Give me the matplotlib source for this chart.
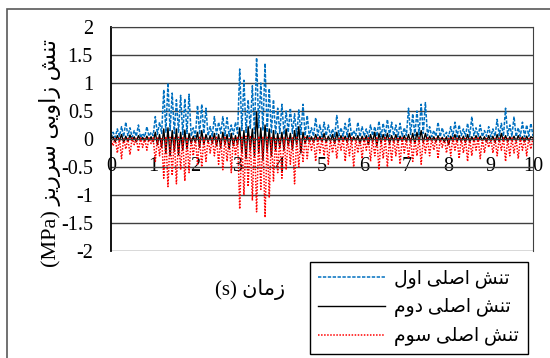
import numpy as np
import matplotlib
matplotlib.use("Agg")
import matplotlib.pyplot as plt
from matplotlib.patches import Rectangle

# time step of the records (s)
dt = 0.05

# principal stresses (MPa), one row per second
sigma1 = [
    0.02, 0.12, 0.03, 0.18, 0.05, 0.22, 0.04, 0.30, 0.06, 0.20, 0.03, 0.15, 0.05, 0.25, 0.02, 0.10, 0.04, 0.22, 0.05, 0.12,
    0.06, 0.40, 0.08, 0.30, 0.10, 0.88, 0.12, 1.00, 0.15, 0.82, 0.10, 0.70, 0.12, 0.78, 0.08, 0.72, 0.10, 0.80, 0.05, 0.20,
    0.04, 0.60, 0.08, 0.62, 0.10, 0.55, 0.06, 0.22, 0.05, 0.40, 0.08, 0.30, 0.10, 0.40, 0.06, 0.38, 0.05, 0.25, 0.08, 0.30,
    0.10, 1.25, 0.15, 1.05, 0.12, 0.70, 0.18, 0.95, 0.10, 1.45, 0.20, 1.00, 0.15, 1.35, 0.12, 0.90, 0.10, 0.70, 0.08, 0.55,
    0.10, 0.62, 0.08, 0.50, 0.12, 0.55, 0.10, 0.45, 0.05, 0.52, 0.08, 0.62, 0.06, 0.42, 0.04, 0.20, 0.05, 0.38, 0.06, 0.25,
    0.04, 0.30, 0.06, 0.25, 0.05, 0.18, 0.04, 0.42, 0.06, 0.20, 0.05, 0.28, 0.04, 0.38, 0.05, 0.15, 0.06, 0.30, 0.04, 0.22,
    0.05, 0.18, 0.04, 0.25, 0.06, 0.22, 0.05, 0.32, 0.04, 0.28, 0.06, 0.35, 0.05, 0.30, 0.06, 0.25, 0.04, 0.28, 0.05, 0.20,
    0.06, 0.55, 0.08, 0.45, 0.06, 0.50, 0.08, 0.62, 0.10, 0.65, 0.06, 0.22, 0.04, 0.15, 0.05, 0.30, 0.04, 0.20, 0.05, 0.12,
    0.04, 0.22, 0.05, 0.30, 0.04, 0.25, 0.06, 0.18, 0.05, 0.28, 0.04, 0.40, 0.06, 0.20, 0.05, 0.25, 0.04, 0.15, 0.05, 0.22,
    0.04, 0.18, 0.05, 0.35, 0.06, 0.28, 0.05, 0.55, 0.06, 0.25, 0.05, 0.40, 0.04, 0.20, 0.05, 0.30, 0.04, 0.25, 0.05, 0.28,
    0.05,
]
sigma2 = [
    0.00, 0.04, -0.05, 0.06, -0.03, 0.08, -0.06, 0.05, -0.04, 0.07, -0.03, 0.04, -0.05, 0.06, -0.02, 0.03, -0.04, 0.05, -0.03, 0.04,
    -0.05, 0.12, -0.10, 0.08, -0.15, 0.18, -0.25, 0.20, -0.30, 0.15, -0.22, 0.18, -0.28, 0.12, -0.20, 0.16, -0.18, 0.10, -0.08, 0.05,
    -0.06, 0.12, -0.15, 0.15, -0.10, 0.08, -0.05, 0.06, -0.08, 0.10, -0.12, 0.08, -0.15, 0.12, -0.10, 0.08, -0.18, 0.10, -0.12, 0.06,
    -0.10, 0.20, -0.25, 0.15, -0.35, 0.22, -0.20, 0.18, -0.30, 0.48, -0.25, 0.20, -0.38, 0.25, -0.22, 0.18, -0.30, 0.15, -0.20, 0.10,
    -0.15, 0.12, -0.20, 0.18, -0.12, 0.10, -0.18, 0.15, -0.10, 0.22, -0.25, 0.12, -0.08, 0.06, -0.05, 0.04, -0.06, 0.08, -0.04, 0.05,
    -0.05, 0.10, -0.06, 0.05, -0.04, 0.08, -0.08, 0.12, -0.05, 0.06, -0.04, 0.05, -0.06, 0.10, -0.05, 0.04, -0.03, 0.06, -0.08, 0.05,
    -0.04, 0.06, -0.10, 0.08, -0.05, 0.12, -0.12, 0.10, -0.06, 0.08, -0.04, 0.10, -0.08, 0.06, -0.05, 0.08, -0.06, 0.05, -0.04, 0.06,
    -0.05, 0.08, -0.06, 0.10, -0.08, 0.12, -0.05, 0.15, -0.06, 0.10, -0.04, 0.05, -0.03, 0.04, -0.05, 0.06, -0.04, 0.03, -0.05, 0.04,
    -0.10, 0.05, -0.04, 0.08, -0.05, 0.06, -0.04, 0.05, -0.06, 0.08, -0.05, 0.04, -0.03, 0.06, -0.04, 0.05, -0.03, 0.04, -0.05, 0.06,
    -0.04, 0.05, -0.06, 0.08, -0.05, 0.10, -0.04, 0.06, -0.05, 0.04, -0.03, 0.05, -0.04, 0.06, -0.03, 0.04, -0.05, 0.05, -0.03, 0.04,
    0.02,
]
sigma3 = [
    -0.02, -0.12, 0.02, -0.25, 0.01, -0.35, 0.02, -0.18, 0.01, -0.28, 0.02, -0.10, 0.01, -0.22, 0.02, -0.15, 0.01, -0.20, 0.02, -0.08,
    0.02, -0.40, 0.03, -0.30, 0.02, -0.70, 0.04, -0.85, 0.03, -0.65, 0.02, -0.80, 0.03, -0.55, 0.02, -0.75, 0.03, -0.60, 0.02, -0.30,
    0.02, -0.45, 0.03, -0.50, 0.02, -0.40, 0.01, -0.25, 0.02, -0.30, 0.03, -0.45, 0.02, -0.55, 0.03, -0.40, 0.02, -0.60, 0.03, -0.30,
    0.04, -1.25, 0.03, -1.00, 0.05, -0.85, 0.04, -1.10, 0.03, -1.30, 0.05, -0.90, 0.04, -1.40, 0.03, -1.05, 0.04, -0.75, 0.03, -0.60,
    0.03, -0.70, 0.02, -0.55, 0.03, -0.45, 0.02, -0.80, 0.03, -0.50, 0.02, -0.40, 0.03, -0.35, 0.02, -0.20, 0.01, -0.40, 0.02, -0.25,
    0.01, -0.30, 0.02, -0.45, 0.01, -0.25, 0.02, -0.35, 0.01, -0.20, 0.02, -0.40, 0.01, -0.30, 0.02, -0.50, 0.01, -0.25, 0.02, -0.35,
    0.01, -0.20, 0.02, -0.40, 0.01, -0.30, 0.02, -0.55, 0.01, -0.35, 0.02, -0.50, 0.01, -0.40, 0.02, -0.30, 0.01, -0.45, 0.02, -0.25,
    0.01, -0.35, 0.02, -0.40, 0.01, -0.30, 0.02, -0.45, 0.01, -0.25, 0.02, -0.30, 0.01, -0.20, 0.02, -0.35, 0.01, -0.15, 0.02, -0.25,
    0.01, -0.30, 0.02, -0.20, 0.01, -0.35, 0.02, -0.25, 0.01, -0.40, 0.02, -0.30, 0.01, -0.20, 0.02, -0.35, 0.01, -0.25, 0.02, -0.15,
    0.01, -0.25, 0.02, -0.30, 0.01, -0.20, 0.02, -0.40, 0.01, -0.30, 0.02, -0.25, 0.01, -0.35, 0.02, -0.20, 0.01, -0.30, 0.02, -0.18,
    0.01,
]

series_names = ["تنش اصلی اول", "تنش اصلی دوم", "تنش اصلی سوم"]
xlabel = "زمان (s)"
ylabel = "تنش زاویی سرریز (MPa)"
xticks = list(range(0, 11))
yticks = [-2, -1.5, -1, -0.5, 0, 0.5, 1, 1.5, 2]


# --- minimal Arabic/Persian shaping (matplotlib has no complex text layout)
FORMS = {  # isolated, final, initial, medial
    "ت": ("\uFE95", "\uFE96", "\uFE97", "\uFE98"),
    "ن": ("\uFEE5", "\uFEE6", "\uFEE7", "\uFEE8"),
    "ش": ("\uFEB5", "\uFEB6", "\uFEB7", "\uFEB8"),
    "س": ("\uFEB1", "\uFEB2", "\uFEB3", "\uFEB4"),
    "ص": ("\uFEB9", "\uFEBA", "\uFEBB", "\uFEBC"),
    "ل": ("\uFEDD", "\uFEDE", "\uFEDF", "\uFEE0"),
    "م": ("\uFEE1", "\uFEE2", "\uFEE3", "\uFEE4"),
    "ی": ("\uFBFC", "\uFBFD", "\uFBFE", "\uFBFF"),
    "ا": ("\uFE8D", "\uFE8E", None, None),
    "و": ("\uFEED", "\uFEEE", None, None),
    "ز": ("\uFEAF", "\uFEB0", None, None),
    "ر": ("\uFEAD", "\uFEAE", None, None),
    "د": ("\uFEA9", "\uFEAA", None, None),
}


def dual(c):
    return c in FORMS and FORMS[c][2] is not None


def rtl(text):
    out = []
    for i, c in enumerate(text):
        if c not in FORMS:
            out.append(c)
            continue
        prev = text[i - 1] if i > 0 else ""
        nxt = text[i + 1] if i + 1 < len(text) else ""
        jp = dual(prev)
        jn = dual(c) and nxt in FORMS
        idx = {(False, False): 0, (True, False): 1, (False, True): 2, (True, True): 3}[(jp, jn)]
        out.append(FORMS[c][idx])
    out = out[::-1]
    # put latin runs back in reading order, mirror brackets
    s = "".join(out)
    res, run = "", ""
    for c in s:
        if c.isascii() and c.isalnum():
            run += c
        else:
            res += run[::-1]
            run = ""
            res += {"(": ")", ")": "("}.get(c, c)
    res += run[::-1]
    return res


plt.rcParams["font.family"] = ["Liberation Serif", "DejaVu Sans"]
plt.rcParams["font.size"] = 14.5

t = np.arange(len(sigma1)) * dt

fig = plt.figure(figsize=(5.5, 3.58), dpi=100)
fig.add_artist(Rectangle((7 / 550, -0.1), 1.2, 0.1 + (1 - 9 / 358), transform=fig.transFigure,
                         fill=False, edgecolor="#595959", linewidth=1.2))

ax = fig.add_axes([111 / 550, 107 / 358, 422 / 550, 224 / 358])
ax.plot(t, sigma1, color="#0070C0", linestyle=(0, (2.2, 1)), linewidth=1.1, label=rtl(series_names[0]))
ax.plot(t, sigma2, color="black", linestyle="-", linewidth=1.0, label=rtl(series_names[1]))
ax.plot(t, sigma3, color="#FF0000", linestyle=(0, (1, 1)), linewidth=1.1, label=rtl(series_names[2]))

ax.set_xlim(0, 10)
ax.set_ylim(-2, 2)
ax.set_xticks(xticks)
ax.set_yticks(yticks)
ax.set_yticklabels([f"{v:g}" for v in yticks])
ax.grid(axis="y", color="#404040", linewidth=1)
ax.set_axisbelow(True)
ax.spines["bottom"].set_position(("data", 0))
ax.spines["bottom"].set_color("#404040")
for s in ["top", "right"]:
    ax.spines[s].set_color("#404040")
ax.spines["left"].set_linewidth(1.3)
ax.tick_params(axis="y", length=0, pad=13)
ax.tick_params(axis="x", length=0, pad=13)

fig.text(250 / 550, 1 - 289 / 358, rtl(xlabel), ha="center", va="center", fontsize=15)
fig.text(50 / 550, 1 - 153 / 358, rtl(ylabel), ha="center", va="center", rotation=90, fontsize=16)

leg = fig.legend(loc="lower left", bbox_to_anchor=(310 / 550, 4 / 358, 218 / 550, 98 / 358),
                 mode="expand", fancybox=False, framealpha=1, edgecolor="black",
                 handlelength=3.6, handletextpad=0.5, fontsize=13.5, borderaxespad=0,
                 labelspacing=0.55, borderpad=0.4)
leg.get_frame().set_linewidth(1.0)

fig.savefig("out.png", dpi=100)
